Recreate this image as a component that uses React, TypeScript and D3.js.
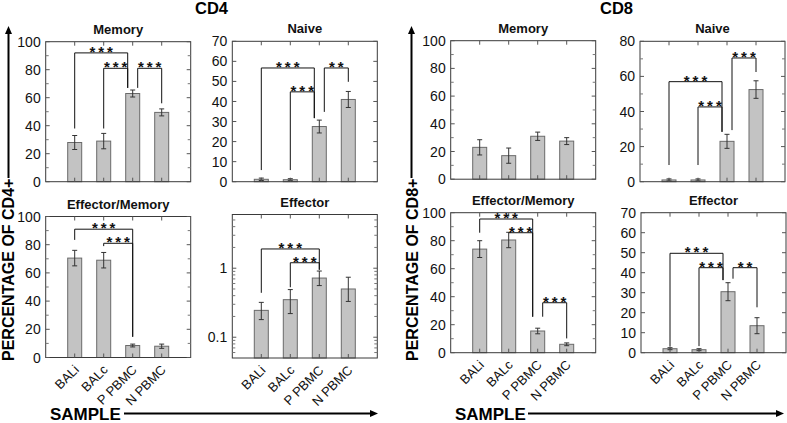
import React from "react";
import * as d3 from "d3";

const categories = ["BALi", "BALc", "P PBMC", "N PBMC"];

// CD4
const cd4MemoryMean = [28, 29, 63, 49.5];
const cd4MemoryErr = [5, 5.5, 2.5, 2.5];
const cd4NaiveMean = [1.2, 1, 27.5, 41];
const cd4NaiveErr = [0.6, 0.5, 3.2, 4];
const cd4EffMemMean = [70.5, 69, 8.5, 8];
const cd4EffMemErr = [5.5, 5.5, 1, 1.5];
const cd4EffectorMean = [0.245, 0.35, 0.72, 0.5];
const cd4EffectorLow = [0.18, 0.22, 0.56, 0.33];
const cd4EffectorHigh = [0.32, 0.49, 0.91, 0.74];

// CD8
const cd8MemoryMean = [23, 17, 31, 27.5];
const cd8MemoryErr = [5.5, 5.5, 3, 2.5];
const cd8NaiveMean = [1, 1, 23, 52.5];
const cd8NaiveErr = [0.6, 0.6, 4, 5];
const cd8EffMemMean = [74, 80.5, 15.5, 6];
const cd8EffMemErr = [6, 5.5, 2, 1];
const cd8EffectorMean = [2, 1.5, 30.5, 13.5];
const cd8EffectorErr = [0.5, 0.5, 4.5, 4];

// significance brackets: [from, to, bracket level, left leg end, right leg end, label]
type Sig = [number, number, number, number, number, string];
const cd4MemorySig: Sig[] = [
  [0, 2, 92, 38, 67, "***"],
  [1, 2, 81, 38, 67, "***"],
  [2, 3, 81, 67, 56, "***"],
];
const cd4NaiveSig: Sig[] = [
  [0, 2, 56.7, 5.8, 31.7, "***"],
  [1, 2, 44.8, 5.8, 31.7, "***"],
  [2, 3, 56.7, 34.8, 49.8, "**"],
];
const cd4EffMemSig: Sig[] = [
  [0, 2, 91, 83.4, 14.7, "***"],
  [1, 2, 81, 79, 14.7, "***"],
];
const cd4EffectorSig: Sig[] = [
  [0, 2, 1.9, 0.44, 0.95, "***"],
  [1, 2, 1.2, 0.53, 0.95, "***"],
];
const cd8MemorySig: Sig[] = [];
const cd8NaiveSig: Sig[] = [
  [0, 2, 57, 9.5, 28.4, "***"],
  [1, 2, 42.6, 9.5, 28.4, "***"],
  [2, 3, 70.5, 29.4, 62.5, "***"],
];
const cd8EffMemSig: Sig[] = [
  [0, 2, 95.5, 85.7, 25.7, "***"],
  [1, 2, 85.7, 85.7, 25.7, "***"],
  [2, 3, 35.7, 25.7, 10.2, "***"],
];
const cd8EffectorSig: Sig[] = [
  [0, 2, 49.7, 3, 36.3, "***"],
  [1, 2, 42.5, 3.3, 36.3, "***"],
  [2, 3, 42.5, 37, 22.7, "**"],
];

const panelTitles = ["Memory", "Naive", "Effector/Memory", "Effector"];

const FONT = "Arial, 'Liberation Sans', sans-serif";

type PanelCfg = {
  title: string;
  x: number;
  y: number;
  w: number;
  h: number;
  mean: number[];
  lo: number[];
  hi: number[];
  sig: Sig[];
  domain: [number, number];
  major: number[];
  minor: number[];
  log?: boolean;
  showXLabels?: boolean;
};

const sym = (m: number[], e: number[], s: number) => m.map((v, i) => v + s * e[i]);

const W = 145;
const panels: PanelCfg[] = [
  {
    title: panelTitles[0], x: 45.7, y: 41.7, w: W, h: 140,
    mean: cd4MemoryMean, lo: sym(cd4MemoryMean, cd4MemoryErr, -1), hi: sym(cd4MemoryMean, cd4MemoryErr, 1),
    sig: cd4MemorySig, domain: [0, 100], major: d3.range(0, 101, 20), minor: d3.range(10, 100, 20),
  },
  {
    title: panelTitles[1], x: 232.3, y: 41.3, w: W, h: 140.4,
    mean: cd4NaiveMean, lo: sym(cd4NaiveMean, cd4NaiveErr, -1), hi: sym(cd4NaiveMean, cd4NaiveErr, 1),
    sig: cd4NaiveSig, domain: [0, 70], major: d3.range(0, 71, 10), minor: [],
  },
  {
    title: panelTitles[2], x: 45.7, y: 216.5, w: W, h: 141,
    mean: cd4EffMemMean, lo: sym(cd4EffMemMean, cd4EffMemErr, -1), hi: sym(cd4EffMemMean, cd4EffMemErr, 1),
    sig: cd4EffMemSig, domain: [0, 100], major: d3.range(0, 101, 20), minor: d3.range(10, 100, 20), showXLabels: true,
  },
  {
    title: panelTitles[3], x: 232.3, y: 214.5, w: W, h: 143.5,
    mean: cd4EffectorMean, lo: cd4EffectorLow, hi: cd4EffectorHigh,
    sig: cd4EffectorSig, domain: [0.05, 6], major: [0.1, 1],
    minor: [0.06, 0.07, 0.08, 0.09, 0.2, 0.3, 0.4, 0.5, 0.6, 0.7, 0.8, 0.9, 2, 3, 4, 5],
    log: true, showXLabels: true,
  },
  {
    title: panelTitles[0], x: 450.7, y: 40.7, w: W, h: 138.5,
    mean: cd8MemoryMean, lo: sym(cd8MemoryMean, cd8MemoryErr, -1), hi: sym(cd8MemoryMean, cd8MemoryErr, 1),
    sig: cd8MemorySig, domain: [0, 100], major: d3.range(0, 101, 20), minor: d3.range(10, 100, 20),
  },
  {
    title: panelTitles[1], x: 640, y: 41.3, w: W, h: 140.4,
    mean: cd8NaiveMean, lo: sym(cd8NaiveMean, cd8NaiveErr, -1), hi: sym(cd8NaiveMean, cd8NaiveErr, 1),
    sig: cd8NaiveSig, domain: [0, 80], major: d3.range(0, 81, 20), minor: d3.range(10, 80, 20),
  },
  {
    title: panelTitles[2], x: 450.7, y: 212.7, w: W, h: 140,
    mean: cd8EffMemMean, lo: sym(cd8EffMemMean, cd8EffMemErr, -1), hi: sym(cd8EffMemMean, cd8EffMemErr, 1),
    sig: cd8EffMemSig, domain: [0, 100], major: d3.range(0, 101, 20), minor: d3.range(10, 100, 20), showXLabels: true,
  },
  {
    title: panelTitles[3], x: 641, y: 212.7, w: W, h: 140,
    mean: cd8EffectorMean, lo: sym(cd8EffectorMean, cd8EffectorErr, -1), hi: sym(cd8EffectorMean, cd8EffectorErr, 1),
    sig: cd8EffectorSig, domain: [0, 70], major: d3.range(0, 71, 10), minor: [], showXLabels: true,
  },
];

function Panel({ p }: { p: PanelCfg }) {
  const x = d3.scalePoint<string>().domain(categories).range([p.x, p.x + p.w]).padding(1);
  const bottom = p.y + p.h;
  const y: (v: number) => number = p.log
    ? d3.scaleLog().domain(p.domain).range([bottom, p.y])
    : d3.scaleLinear().domain(p.domain).range([bottom, p.y]);
  const hasPN = p.sig.some((s) => s[0] === 2 && s[1] === 3);
  const fmt = (v: number) => (p.log ? String(v) : d3.format("d")(v));
  const barW = 14;
  const tickLen = 4;
  const minorLen = 3;
  const xEnd = (idx: number, s: Sig) => {
    const c = x(categories[idx]) as number;
    if (!hasPN || idx !== 2) return c;
    if (s[0] === 2 && s[1] === 3) return c + 5;
    return c - 5;
  };
  return (
    <g>
      <text x={p.x + p.w / 2} y={p.y - 8} textAnchor="middle" fontFamily={FONT} fontWeight="bold" fontSize={13} fill="#111">
        {p.title}
      </text>
      {p.mean.map((m, i) => {
        const cx = x(categories[i]) as number;
        return (
          <rect key={"b" + i} x={cx - barW / 2} y={y(m)} width={barW} height={bottom - y(m)} fill="#c3c3c3" stroke="#6a6a6a" strokeWidth={1} />
        );
      })}
      {p.mean.map((m, i) => {
        const cx = x(categories[i]) as number;
        return (
          <g key={"e" + i} stroke="#333" strokeWidth={1}>
            <line x1={cx} x2={cx} y1={y(p.lo[i])} y2={y(p.hi[i])} />
            <line x1={cx - 2.5} x2={cx + 2.5} y1={y(p.lo[i])} y2={y(p.lo[i])} />
            <line x1={cx - 2.5} x2={cx + 2.5} y1={y(p.hi[i])} y2={y(p.hi[i])} />
          </g>
        );
      })}
      <rect x={p.x} y={p.y} width={p.w} height={p.h} fill="none" stroke="#3a3a3a" strokeWidth={1} />
      {p.major.map((t) => (
        <g key={"t" + t}>
          <line x1={p.x} x2={p.x + tickLen} y1={y(t)} y2={y(t)} stroke="#555" />
          <line x1={p.x + p.w} x2={p.x + p.w - tickLen} y1={y(t)} y2={y(t)} stroke="#555" />
          <text x={p.x - 5} y={y(t)} dy="0.36em" textAnchor="end" fontFamily={FONT} fontSize={14} fill="#111">
            {fmt(t)}
          </text>
        </g>
      ))}
      {p.minor.map((t) => (
        <g key={"m" + t} stroke="#777">
          <line x1={p.x} x2={p.x + minorLen} y1={y(t)} y2={y(t)} />
          <line x1={p.x + p.w} x2={p.x + p.w - minorLen} y1={y(t)} y2={y(t)} />
        </g>
      ))}
      {categories.map((c) => (
        <g key={"xt" + c} stroke="#555">
          <line x1={x(c) as number} x2={x(c) as number} y1={p.y} y2={p.y + tickLen} />
          <line x1={x(c) as number} x2={x(c) as number} y1={bottom} y2={bottom - tickLen} />
        </g>
      ))}
      {p.showXLabels &&
        categories.map((c) => {
          const cx = (x(c) as number) + 5;
          const ly = bottom + 13;
          return (
            <text key={"xl" + c} x={cx} y={ly} transform={`rotate(-45 ${cx} ${ly})`} textAnchor="end" fontFamily={FONT} fontSize={13} fill="#111">
              {c}
            </text>
          );
        })}
      {p.sig.map((s, k) => {
        const xa = xEnd(s[0], s);
        const xb = xEnd(s[1], s);
        const yl = y(s[2]);
        return (
          <g key={"s" + k}>
            <path d={`M${xa},${y(s[3])}V${yl}H${xb}V${y(s[4])}`} fill="none" stroke="#111" strokeWidth={1} />
            <text x={(xa + xb) / 2 + 1.5} y={yl + 4} textAnchor="middle" fontFamily={FONT} fontWeight="bold" fontSize={15} letterSpacing={3} fill="#111">
              {s[5]}
            </text>
          </g>
        );
      })}
    </g>
  );
}

function Arrow({ x1, y1, x2, y2 }: { x1: number; y1: number; x2: number; y2: number }) {
  const ang = Math.atan2(y2 - y1, x2 - x1);
  const L = 8;
  const Wd = 3.5;
  const bx = x2 - L * Math.cos(ang);
  const by = y2 - L * Math.sin(ang);
  const px = -Math.sin(ang) * Wd;
  const py = Math.cos(ang) * Wd;
  return (
    <g>
      <line x1={x1} y1={y1} x2={bx} y2={by} stroke="#000" strokeWidth={2} />
      <path d={`M${x2},${y2}L${bx + px},${by + py}L${bx - px},${by - py}Z`} fill="#000" />
    </g>
  );
}

export default function App() {
  return (
    <svg width={787} height={423} style={{ position: "absolute", left: 0, top: 0, background: "#fff" }}>
      <rect width={787} height={423} fill="#fff" />
      <text x={195} y={14} fontFamily={FONT} fontWeight="bold" fontSize={16.5} fill="#000">CD4</text>
      <text x={600} y={14} fontFamily={FONT} fontWeight="bold" fontSize={16.5} fill="#000">CD8</text>

      <text transform="translate(14,361) rotate(-90)" fontFamily={FONT} fontWeight="bold" fontSize={16} fill="#000">PERCENTAGE OF CD4+</text>
      <Arrow x1={8.5} y1={178} x2={8.5} y2={26} />
      <text transform="translate(417.5,361) rotate(-90)" fontFamily={FONT} fontWeight="bold" fontSize={16} fill="#000">PERCENTAGE OF CD8+</text>
      <Arrow x1={411.5} y1={178} x2={411.5} y2={26} />

      <text x={50} y={420} fontFamily={FONT} fontWeight="bold" fontSize={17} fill="#000">SAMPLE</text>
      <Arrow x1={124} y1={413.5} x2={378} y2={413.5} />
      <text x={455} y={420} fontFamily={FONT} fontWeight="bold" fontSize={17} fill="#000">SAMPLE</text>
      <Arrow x1={528} y1={413.5} x2={784} y2={413.5} />

      {panels.map((p, i) => (
        <Panel key={i} p={p} />
      ))}
    </svg>
  );
}
